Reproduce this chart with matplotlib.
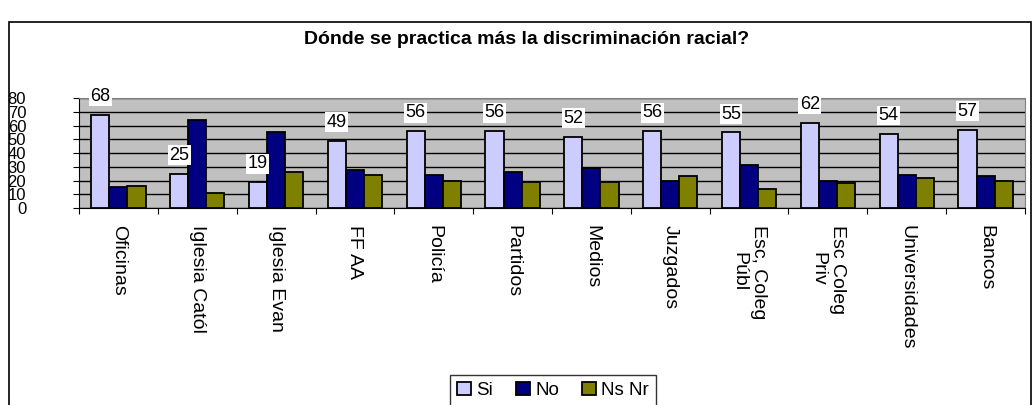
import numpy as np
import matplotlib
matplotlib.use("Agg")
import matplotlib.pyplot as plt
from matplotlib.patches import Rectangle

plt.rcParams["font.family"] = ["Liberation Sans", "DejaVu Sans"]

categories = ["Oficinas", "Iglesia Catól", "Iglesia Evan", "FF AA", "Policía",
              "Partidos", "Medios", "Juzgados", "Esc, Coleg\nPúbl",
              "Esc Coleg\nPriv", "Universidades", "Bancos"]
si = [68, 25, 19, 49, 56, 56, 52, 56, 55, 62, 54, 57]
no = [15, 64, 55, 28, 24, 26, 29, 20, 31, 20, 24, 23]
ns_nr = [16, 11, 26, 24, 20, 19, 19, 23, 14, 18, 22, 20]
series_names = ["Si", "No", "Ns Nr"]
y_ticks = [0, 10, 20, 30, 40, 50, 60, 70, 80]

W, H = 1033, 405
fig = plt.figure(figsize=(W / 100, H / 100), dpi=100)

# outer chart frame (cropped at right/bottom in the original)
fig.patches.append(Rectangle((9 / W, -0.1), (1031 - 9) / W, 1.1 - 22 / H,
                             transform=fig.transFigure, fill=False,
                             ec="black", lw=1.2))

left, right, top, bottom = 79, 1025, 98, 208
ax = fig.add_axes([left / W, 1 - bottom / H, (right - left) / W, (bottom - top) / H])
ax.set_facecolor("#C0C0C0")

x = np.arange(len(categories))
w = 0.23
colors = ["#CCCCFF", "#000080", "#808000"]
for i, (vals, c, name) in enumerate(zip([si, no, ns_nr], colors, series_names)):
    ax.bar(x + (i - 1) * w, vals, w, color=c, edgecolor="black", lw=1.3,
           label=name, zorder=3)

for xi, v in zip(x - w, si):
    ax.annotate(str(v), (xi, v), xytext=(0, 7), textcoords="offset points",
                ha="center", va="bottom", fontsize=13, zorder=5,
                bbox=dict(fc="white", ec="none", pad=1))

ax.set_xlim(-0.5, len(categories) - 0.5)
ax.set_ylim(0, 80)
ax.set_yticks(y_ticks)
ax.set_yticklabels([str(t) for t in y_ticks], fontsize=12)
ax.yaxis.grid(True, color="black", lw=1, zorder=1)
ax.set_axisbelow(True)
ax.tick_params(axis="y", direction="out", length=4, pad=34)

# tick marks between categories, labels drawn by hand (rotated, centred lines)
ax.set_xticks(np.arange(len(categories) + 1) - 0.5)
ax.set_xticklabels([])
ax.tick_params(axis="x", direction="out", length=4)
for xi, cat in zip(x, categories):
    ax.annotate(cat, (xi, 0), xycoords=("data", "axes fraction"),
                xytext=(0, -12), textcoords="offset points", rotation=270,
                ha="center", va="top", multialignment="center", fontsize=14)

for s in ["top", "right"]:
    ax.spines[s].set_color("#808080")
for s in ["left", "bottom"]:
    ax.spines[s].set_color("black")

fig.text(527 / W, 1 - 39 / H, "Dónde se practica más la discriminación racial?",
         ha="center", va="center", fontsize=14, fontweight="bold")

leg = fig.legend(loc="upper center", bbox_to_anchor=(553 / W, 1 - 375 / H),
                 ncol=3, fontsize=13.5, frameon=True, fancybox=False,
                 handlelength=0.75, handleheight=0.75, handletextpad=0.3,
                 columnspacing=1.2, borderpad=0.35, borderaxespad=0)
leg.get_frame().set_edgecolor("black")
leg.get_frame().set_linewidth(1)

fig.savefig("out.png", dpi=100)
